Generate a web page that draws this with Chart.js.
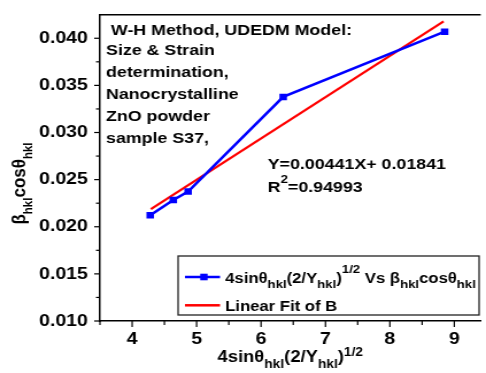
<!DOCTYPE html>
<html><head><meta charset="utf-8">
<script src="https://cdn.jsdelivr.net/npm/chart.js@4/dist/chart.umd.min.js"></script>
<style>
html,body{margin:0;padding:0;background:#fff;overflow:hidden}
</style></head><body>
<canvas id="c" width="423" height="373" style="display:block;width:486px;height:373px"></canvas>
<script>
// ---- data ----
const xValues = [4.28, 4.638, 4.868, 6.344, 8.85];
const yValues = [0.02121, 0.02283, 0.02374, 0.03378, 0.0407];
const fitX = [4.29, 8.834];
const fitY = [0.02188, 0.04178];
const xTickLabels = [4, 5, 6, 7, 8, 9];
const xMinorTicks = [3.5, 4.5, 5.5, 6.5, 7.5, 8.5];
const yTickLabels = [0.010, 0.015, 0.020, 0.025, 0.030, 0.035, 0.040];
const yMinorTicks = [0.0125, 0.0175, 0.0225, 0.0275, 0.0325, 0.0375];
const noteLines = [' W-H Method, UDEDM Model:', 'Size & Strain', 'determination,', 'Nanocrystalline', 'ZnO powder', 'sample S37,'];
const eqText = 'Y=0.00441X+ 0.01841';
const r2Text = '=0.94993';
const seriesLabel = [['4sinθ','n'],['hkl','sub'],['(2/Y','n'],['hkl','sub'],[')','n'],['1/2','sup'],[' Vs β','n'],['hkl','sub'],['cosθ','n'],['hkl','sub']];
const fitLabel = 'Linear Fit of B';
const xTitle = [['4sinθ','n'],['hkl','sub'],['(2/Y','n'],['hkl','sub'],[')','n'],['1/2','sup']];
const yTitle = [['β','n'],['hkl','sub'],['cosθ','n'],['hkl','sub']];

const FAM = '"Liberation Sans", Arial, sans-serif';
function font(sz){ return 'bold ' + sz + 'px ' + FAM; }
function richWidth(ctx, segs, F, S){
  let w = 0;
  for (const [t,k] of segs){ ctx.font = font(k==='n'?F:S); w += ctx.measureText(t).width; }
  return w;
}
function rich(ctx, segs, x, y, F, S, subDy, supDy){
  let cx = x;
  ctx.textAlign = 'left'; ctx.textBaseline = 'alphabetic';
  for (const [t,k] of segs){
    ctx.font = font(k==='n'?F:S);
    const dy = k==='sub'?subDy:(k==='sup'?supDy:0);
    ctx.fillText(t, cx, y+dy);
    cx += ctx.measureText(t).width;
  }
}

const deco = {
  id: 'deco',
  afterDraw(chart){
    const {ctx, chartArea:a, scales:{x, y}} = chart;
    ctx.save();
    ctx.strokeStyle = '#000';
    ctx.fillStyle = '#000';
    // top frame line
    ctx.lineWidth = 1.5;
    ctx.beginPath(); ctx.moveTo(a.left, a.top); ctx.lineTo(a.right, a.top); ctx.stroke();
    // tick marks (outward)
    ctx.lineWidth = 1.2;
    const seg = (x1,y1,x2,y2)=>{ctx.beginPath();ctx.moveTo(x1,y1);ctx.lineTo(x2,y2);ctx.stroke();};
    xTickLabels.forEach(v=>{const p=x.getPixelForValue(v); seg(p,a.bottom,p,a.bottom+6);});
    xMinorTicks.forEach(v=>{const p=x.getPixelForValue(v); seg(p,a.bottom,p,a.bottom+4);});
    yTickLabels.forEach(v=>{const p=y.getPixelForValue(v); seg(a.left,p,a.left-5,p);});
    yMinorTicks.forEach(v=>{const p=y.getPixelForValue(v); seg(a.left,p,a.left-3.5,p);});

    // note block
    ctx.font = font(15.5);
    ctx.textAlign = 'left'; ctx.textBaseline = 'alphabetic';
    const base = [35, 55, 77, 99, 121, 143];
    noteLines.forEach((t,i)=>ctx.fillText(t, 92.3, base[i]));
    // equation
    ctx.fillText(eqText, 233, 169);
    rich(ctx, [['R','n'],['2','sup'],[r2Text,'n']], 233, 191.7, 15.5, 11.5, 0, -9);

    // legend
    ctx.lineWidth = 1.3; ctx.strokeStyle = '#222';
    ctx.strokeRect(155, 256, 262, 59);
    ctx.lineWidth = 2.5; ctx.strokeStyle = '#0000ff';
    seg(161, 277, 191.5, 277);
    ctx.fillStyle = '#0000ff';
    ctx.fillRect(177.5-3.2, 277-3.3, 6.4, 6.6);
    ctx.strokeStyle = '#ff0000';
    seg(161, 305.3, 191.5, 305.3);
    ctx.fillStyle = '#000';
    rich(ctx, seriesLabel, 196, 282.5, 14.5, 11.5, 5.5, -10);
    ctx.font = font(14.5);
    ctx.fillText(fitLabel, 196, 311);

    // x title
    const xw = richWidth(ctx, xTitle, 16, 12);
    rich(ctx, xTitle, (a.left+a.right)/2 - xw/2, 362.3, 16, 12, 6, -6);
    // y title
    const yw = richWidth(ctx, yTitle, 17, 11.5);
    ctx.translate(21.8, 183.5);
    ctx.rotate(-Math.PI/2);
    rich(ctx, yTitle, -yw/2, 0, 17, 11.5, 6.5, -6);
    ctx.restore();
  }
};

const pts = xValues.map((v,i)=>({x:v, y:yValues[i]}));
const fitPts = fitX.map((v,i)=>({x:v, y:fitY[i]}));

new Chart(document.getElementById('c'), {
  type: 'scatter',
  data: { datasets: [
    { label: 'series', data: pts, showLine: true, borderColor: '#0000ff', backgroundColor: '#0000ff',
      borderWidth: 2.5, pointStyle: 'rect', pointRadius: 4.6, pointBorderWidth: 0, order: 1 },
    { label: 'fit', data: fitPts, showLine: true, borderColor: '#ff0000', borderWidth: 2.2,
      pointRadius: 0, order: 2 }
  ]},
  options: {
    responsive: false, animation: false, devicePixelRatio: 1,
    layout: { padding: { top: 13, left: 0, right: 0, bottom: 0 } },
    plugins: { legend: { display: false }, tooltip: { enabled: false } },
    scales: {
      x: {
        type: 'linear', min: 3.5, max: 9.41,
        afterBuildTicks: s => { s.ticks = xTickLabels.map(v=>({value:v})); },
        afterFit: s => { s.height = 52; },
        grid: { display: false, drawTicks: true, tickLength: 6 },
        border: { display: true, color: '#000', width: 1.5 },
        ticks: { autoSkip: false, maxRotation: 0, padding: 2, color: '#000',
          font: { family: FAM, weight: 'bold', size: 17 }, callback: v => String(v) }
      },
      y: {
        type: 'linear', min: 0.010, max: 0.0425,
        afterBuildTicks: s => { s.ticks = yTickLabels.map(v=>({value:v})); },
        afterFit: s => { s.width = 87; },
        grid: { display: false, drawTicks: true, tickLength: 6 },
        border: { display: true, color: '#000', width: 1.5 },
        ticks: { autoSkip: false, padding: 4.5, color: '#000',
          font: { family: FAM, weight: 'bold', size: 17 }, callback: v => v.toFixed(3) }
      }
    }
  },
  plugins: [deco]
});
</script>
</body></html>
